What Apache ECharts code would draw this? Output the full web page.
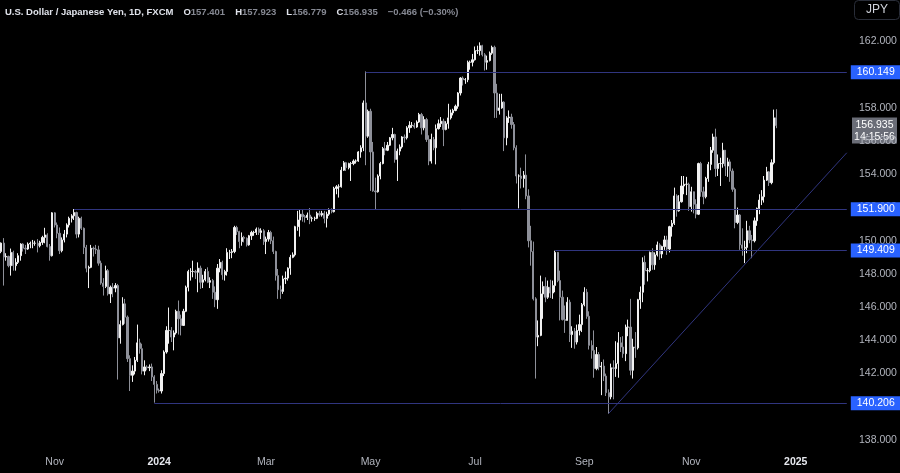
<!DOCTYPE html>
<html>
<head>
<meta charset="utf-8">
<title>USDJPY 1D</title>
<script src="https://cdn.jsdelivr.net/npm/echarts@6/dist/echarts.min.js"></script>
<style>
  html, body { margin: 0; padding: 0; background: #000; }
  #chart { width: 900px; height: 473px; }
</style>
</head>
<body>
<div id="chart"></div>
<script>
// daily bars, one row per trading day: [open, close, low, high]
var oct23 = [
  [149.35,149.86,149.25,149.90],[149.86,149.02,147.30,150.16],[149.02,149.06,148.80,149.25],[149.06,148.50,148.40,149.10],
  [148.50,149.30,147.90,149.53],[149.30,148.50,148.20,149.40],[148.50,148.70,148.20,148.95],[148.70,149.10,148.60,149.25],
  [149.10,149.80,148.80,149.85],[149.80,149.55,149.35,149.85],[149.55,149.50,149.20,149.75],[149.50,149.80,149.45,149.90],
  [149.80,149.85,149.55,149.95],[149.85,149.85,149.55,150.05],[149.85,149.85,149.70,150.00],[149.85,149.70,149.30,150.10],
  [149.70,149.90,149.60,150.00],[149.90,150.20,149.75,150.30],[150.20,150.35,149.85,150.78],[150.35,149.65,149.60,150.45],
  [149.65,149.10,148.80,149.80],[149.10,151.68,149.05,151.72]
];
var nov23 = [
  [151.68,150.95,150.80,151.72],[150.95,150.45,150.15,151.10],[150.45,149.40,149.20,150.80],[149.40,150.05,149.30,150.20],
  [150.05,150.40,149.90,150.65],[150.40,150.95,150.20,151.05],[150.95,151.35,150.80,151.45],[151.35,151.50,151.10,151.60],
  [151.50,151.70,151.25,151.91],[151.70,150.40,150.15,151.75],[150.40,151.35,150.20,151.45],[151.35,150.75,150.65,151.45],
  [150.75,149.60,149.20,150.80],[149.60,148.35,148.10,149.75],[148.35,148.40,147.15,148.50],[148.40,149.55,148.35,149.75],
  [149.55,149.50,149.05,149.65],[149.50,149.45,149.20,149.75],[149.45,148.65,148.50,149.70],[148.65,147.45,147.35,148.80],
  [147.45,147.25,146.70,147.75],[147.25,148.20,147.15,148.50]
];
var dec23 = [
  [148.20,146.80,146.70,148.30],[146.80,147.20,146.25,147.30],[147.20,147.15,146.60,147.45],[147.15,147.30,146.90,147.45],
  [147.30,144.15,141.64,147.40],[144.15,144.95,143.80,145.20],[144.95,146.20,144.90,146.60],[146.20,145.40,145.00,146.50],
  [145.40,142.90,142.70,145.50],[142.90,141.90,140.95,143.10],[141.90,142.15,141.50,142.50],[142.15,142.80,141.95,143.00],
  [142.80,143.85,142.70,144.95],[143.85,143.50,143.20,144.10],[143.50,142.15,141.95,143.80],[142.15,142.40,141.90,142.80],
  [142.40,142.35,142.20,142.50],[142.35,142.40,142.15,142.55],[142.40,141.80,141.55,142.60],[141.80,141.35,140.25,141.90],
  [141.35,141.00,140.80,141.55]
];
var jan24 = [
  [141.00,140.95,140.85,141.10],[140.95,142.00,140.80,142.20],[142.00,143.30,141.85,143.40],[143.30,144.60,143.20,144.85],
  [144.60,144.60,143.80,145.98],[144.60,144.20,143.90,144.80],[144.20,144.45,143.40,144.60],[144.45,145.75,144.35,145.85],
  [145.75,145.30,144.35,146.40],[145.30,144.90,144.30,145.55],[144.90,145.75,144.90,145.90],[145.75,147.20,145.70,147.30],
  [147.20,148.15,146.95,148.25],[148.15,148.15,147.60,148.35],[148.15,148.15,147.80,148.80],[148.15,148.10,147.70,148.25],
  [148.10,148.35,146.90,148.70],[148.35,147.50,147.10,148.50],[147.50,147.65,147.15,147.95],[147.65,148.15,147.55,148.30],
  [148.15,147.50,147.45,148.40],[147.50,147.60,147.15,147.80],[147.60,146.90,146.50,147.70]
];
var feb24 = [
  [146.90,146.45,146.00,147.25],[146.45,148.35,145.90,148.60],[148.35,148.70,148.10,148.90],[148.70,147.95,147.65,148.80],
  [147.95,148.15,147.60,148.25],[148.15,149.30,147.90,149.55],[149.30,149.30,148.90,149.45],[149.30,149.35,148.95,149.50],
  [149.35,150.80,149.25,150.90],[150.80,150.55,150.35,150.90],[150.55,149.95,149.55,150.60],[149.95,150.20,149.70,150.50],
  [150.20,150.15,149.90,150.30],[150.15,149.75,149.65,150.20],[149.75,150.30,149.70,150.35],[150.30,150.50,150.05,150.60],
  [150.50,150.50,150.30,150.60],[150.50,150.70,150.35,150.80],[150.70,150.50,150.35,150.80],[150.50,150.60,150.10,150.75],
  [150.60,149.95,149.75,150.70]
];
var mar24 = [
  [149.95,150.10,149.20,150.25],[150.10,150.50,149.95,150.65],[150.50,150.00,149.80,150.60],[150.00,149.35,149.20,150.25],
  [149.35,147.90,147.60,149.40],[147.90,147.05,146.50,148.30],[147.05,146.95,146.50,147.30],[146.95,147.70,146.80,147.90],
  [147.70,147.75,147.40,148.15],[147.75,148.35,147.60,148.40],[148.35,149.00,147.95,149.15],[149.00,149.15,148.95,149.30],
  [149.15,150.85,149.05,150.90],[150.85,151.25,150.60,151.80],[151.25,151.60,150.25,151.85],[151.60,151.45,151.15,151.85],
  [151.45,151.40,151.10,151.55],[151.40,151.55,151.25,151.70],[151.55,151.35,151.00,151.97],[151.35,151.35,151.15,151.45],
  [151.35,151.35,151.20,151.45]
];
var apr24 = [
  [151.35,151.65,151.30,151.75],[151.65,151.55,151.45,151.80],[151.55,151.65,151.45,151.80],[151.65,151.35,151.05,151.80],
  [151.35,151.60,150.80,151.75],[151.60,151.85,151.50,151.95],[151.85,151.75,151.65,151.95],[151.75,153.15,151.70,153.25],
  [153.15,153.25,152.80,153.35],[153.25,153.25,152.60,153.40],[153.25,154.25,153.20,154.45],[154.25,154.70,154.20,154.80],
  [154.70,154.40,154.20,154.75],[154.40,154.65,154.30,154.70],[154.65,154.65,153.60,154.75],[154.65,154.80,154.55,154.90],
  [154.80,154.80,154.65,154.90],[154.80,155.35,154.75,155.40],[155.35,155.60,155.00,155.75],[155.60,158.30,155.40,158.45],
  [158.30,156.30,154.55,160.20],[156.30,157.80,156.20,157.90]
];
var may24 = [
  [157.80,155.35,153.00,157.95],[155.35,153.00,152.95,155.95],[153.00,152.95,151.86,153.80],[152.95,153.90,152.90,154.00],
  [153.90,154.65,153.70,154.75],[154.65,155.55,154.60,155.65],[155.55,155.45,155.15,155.95],[155.45,155.75,155.40,155.95],
  [155.75,156.20,155.70,156.25],[156.20,156.40,156.05,156.80],[156.40,154.90,154.70,156.45],[154.90,155.40,153.60,155.55],
  [155.40,155.65,155.15,155.80],[155.65,156.25,155.55,156.30],[156.25,156.20,155.90,156.40],[156.20,156.80,156.10,156.90],
  [156.80,156.95,156.50,157.20],[156.95,156.95,156.80,157.15],[156.95,156.85,156.75,157.10],[156.85,157.15,156.80,157.25],
  [157.15,157.60,157.10,157.70],[157.60,156.80,156.40,157.70],[156.80,157.30,156.65,157.50]
];
var jun24 = [
  [157.30,156.10,155.95,157.40],[156.10,154.80,154.55,156.35],[154.80,156.10,154.65,156.45],[156.10,155.60,155.45,156.25],
  [155.60,156.75,154.60,157.00],[156.75,157.05,156.70,157.30],[157.05,157.20,156.85,157.45],[157.20,156.70,155.70,157.35],
  [156.70,157.05,156.65,157.20],[157.05,157.40,156.75,158.25],[157.40,157.70,157.30,157.90],[157.70,157.85,157.55,157.95],
  [157.85,158.10,157.80,158.20],[158.10,158.90,157.95,158.95],[158.90,159.80,158.75,159.85],[159.80,159.70,159.35,159.90],
  [159.70,159.70,159.45,159.80],[159.70,160.75,159.55,160.85],[160.75,160.75,160.30,160.85],[160.75,160.90,160.50,161.25]
];
var jul24 = [
  [160.90,161.45,160.85,161.70],[161.45,161.45,161.25,161.75],[161.45,161.75,161.15,161.95],[161.75,161.20,161.10,161.80],
  [161.20,160.75,160.25,161.30],[160.75,160.85,160.30,161.15],[160.85,161.30,160.80,161.40],[161.30,161.65,161.20,161.75],
  [161.65,158.90,157.40,161.75],[158.90,157.85,157.40,159.45],[157.85,158.00,157.60,158.85],[158.00,158.35,157.95,158.85],
  [158.35,156.20,155.40,158.40],[156.20,157.40,155.75,157.50],[157.40,157.45,157.10,157.85],[157.45,157.00,156.75,157.65],
  [157.00,155.60,155.45,157.15],[155.60,153.90,153.45,155.75],[153.90,153.90,151.95,154.00],[153.90,153.75,153.15,154.40],
  [153.75,153.95,153.20,154.20],[153.95,152.70,152.50,155.20],[152.70,150.00,149.60,153.10]
];
var aug24 = [
  [150.00,149.35,148.50,150.90],[149.35,146.50,146.40,149.95],[146.50,144.20,141.70,146.60],[144.20,144.30,143.65,145.20],
  [144.30,146.80,144.25,147.90],[146.80,147.25,145.30,147.55],[147.25,146.60,146.30,147.80],[146.60,147.20,146.50,147.60],
  [147.20,146.85,146.55,147.65],[146.85,147.30,146.50,147.60],[147.30,149.30,146.90,149.40],[149.30,147.60,147.50,149.10],
  [147.60,146.60,145.20,148.20],[146.60,145.25,145.20,147.00],[145.25,145.20,144.45,146.10],[145.20,146.30,145.20,146.60],
  [146.30,144.35,143.90,146.45],[144.35,144.55,143.55,144.85],[144.55,143.90,143.50,144.75],[143.90,144.60,143.75,144.95],
  [144.60,144.95,144.30,145.55],[144.95,146.15,144.50,146.25]
];
var sep24 = [
  [146.15,146.90,146.05,147.20],[146.90,145.45,145.30,147.10],[145.45,143.70,143.45,145.75],[143.70,143.40,142.90,144.00],
  [143.40,142.30,141.75,144.60],[142.30,143.15,142.20,143.60],[143.15,142.40,142.20,143.30],[142.40,142.45,140.70,142.70],
  [142.45,141.85,141.55,142.85],[141.85,140.85,140.65,142.00],[140.85,140.60,139.58,141.05],[140.60,142.35,140.45,142.60],
  [142.35,142.30,140.45,142.80],[142.30,142.60,141.80,143.95],[142.60,143.85,141.75,144.50],[143.85,143.60,143.30,144.20],
  [143.60,143.20,142.95,144.25],[143.20,144.80,142.75,144.95],[144.80,144.80,144.25,145.25],[144.80,142.20,141.90,146.50],
  [142.20,143.60,141.70,144.10]
];
var oct24 = [
  [143.60,143.55,142.95,144.50],[143.55,146.45,143.45,146.50],[146.45,146.90,145.90,147.25],[146.90,148.70,146.30,149.00],
  [148.70,148.20,147.35,149.10],[148.20,148.20,147.55,148.35],[148.20,149.30,148.10,149.35],[149.30,148.55,148.25,149.55],
  [148.55,149.15,148.25,149.30],[149.15,149.75,149.05,149.95],[149.75,149.20,148.85,149.85],[149.20,149.65,148.95,149.70],
  [149.65,150.05,149.45,150.30],[150.05,149.50,149.15,150.30],[149.50,150.85,149.30,150.90],[150.85,151.05,150.25,151.25],
  [151.05,152.70,150.95,153.20],[152.70,151.80,151.45,152.80],[151.80,152.35,151.75,152.75],[152.35,153.30,152.30,153.90],
  [153.30,153.40,152.80,153.90],[153.40,153.40,152.75,153.85],[153.40,152.05,151.80,153.50]
];
var nov24 = [
  [152.05,152.95,151.75,153.25],[152.95,152.20,151.65,152.70],[152.20,151.60,151.35,152.50],[151.60,154.65,151.55,154.70],
  [154.65,152.95,152.65,154.75],[152.95,152.65,152.20,153.25],[152.65,153.75,152.55,153.85],[153.75,154.60,153.55,154.75],
  [154.60,155.45,154.25,155.65],[155.45,156.25,155.30,156.45],[156.25,154.35,153.85,156.75],[154.35,154.65,153.90,155.20],
  [154.65,154.65,153.30,155.00],[154.65,155.45,154.40,155.90],[155.45,154.50,153.90,155.35],[154.50,154.75,153.85,155.00],
  [154.75,154.20,153.55,154.90],[154.20,153.10,152.95,154.35],[153.10,151.10,150.75,153.20],[151.10,151.55,151.00,152.00],
  [151.55,149.75,149.45,151.60]
];
var dec24 = [
  [149.75,149.55,149.10,150.75],[149.55,149.60,148.65,150.00],[149.60,150.60,149.25,151.20],[150.60,150.05,149.85,150.90],
  [150.05,150.00,148.95,150.35],[150.00,151.20,149.90,151.40],[151.20,151.95,150.90,152.00],[151.95,152.45,151.60,152.80],
  [152.45,152.65,152.15,153.05],[152.65,153.65,152.30,153.90],[153.65,154.15,153.60,154.45],[154.15,153.50,153.30,154.20],
  [153.50,154.70,153.40,154.90],[154.70,157.401,154.60,157.90],[157.401,156.935,156.779,157.923]
];

// horizontal levels drawn on the chart
var levels = [
  { from: '2024-04-29', value: 160.149 },
  { from: '2023-11-13', value: 151.900 },
  { from: '2024-08-15', value: 149.409 },
  { from: '2023-12-28', value: 140.206 }
];
// rising trend line: start point and value at the right edge
var trendStart = ['2024-09-16', 139.6];
var trendEndValue = 155.3;

var countdown = '14:15:56';
var firstDay = '2023-10-02';
var slotCount = 349; // trading-day slots, including the empty space right of the last bar
var monthNames = ['Jan','Feb','Mar','Apr','May','Jun','Jul','Aug','Sep','Oct','Nov','Dec'];

var bars = [].concat(oct23, nov23, dec23, jan24, feb24, mar24, apr24, may24, jun24,
                     jul24, aug24, sep24, oct24, nov24, dec24);

// weekday calendar for the category axis
var dates = [];
var d = new Date(firstDay + 'T00:00:00Z');
while (dates.length < slotCount) {
  var wd = d.getUTCDay();
  if (wd !== 0 && wd !== 6) dates.push(d.toISOString().slice(0, 10));
  d.setUTCDate(d.getUTCDate() + 1);
}
var lastSlot = dates[dates.length - 1];

// label the first day of every other month (Jan shows the year)
var labelAt = {};
dates.forEach(function (ds, i) {
  var m = +ds.slice(5, 7) - 1;
  if (i > 0 && dates[i - 1].slice(5, 7) !== ds.slice(5, 7) && m % 2 === 0) labelAt[i] = true;
});

var last = bars[bars.length - 1];
var prevClose = bars[bars.length - 2][1];
var chg = last[1] - prevClose;
var chgPct = chg / prevClose * 100;
function sgn(v, n) { return (v < 0 ? '\u2212' : '+') + Math.abs(v).toFixed(n); }

var FONT = "'Liberation Sans', Arial, sans-serif";
var lineColor = '#30357f';
var gridRight = 52;

var markData = levels.map(function (lv) {
  return [
    { coord: [lv.from, lv.value], label: { show: true, formatter: lv.value.toFixed(3) } },
    { coord: [lastSlot, lv.value] }
  ];
});
markData.push([
  { coord: trendStart, label: { show: false } },
  { coord: [lastSlot, trendEndValue] }
]);

var chart = echarts.init(document.getElementById('chart'));
chart.setOption({
  backgroundColor: '#000',
  animation: false,
  title: [{
    left: 0,
    top: -2,
    text: '{t|U.S. Dollar / Japanese Yen, 1D, FXCM}  {k|O}{v|' + last[0].toFixed(3) + '}  {k|H}{v|' + last[3].toFixed(3) +
          '}  {k|L}{v|' + last[2].toFixed(3) + '}  {k|C}{v|' + last[1].toFixed(3) + '}  {v|' + sgn(chg, 3) + ' (' + sgn(chgPct, 2) + '%)}',
    textStyle: {
      fontFamily: FONT,
      rich: {
        t: { color: '#e0e3eb', fontSize: 9.5, fontFamily: FONT },
        k: { color: '#e0e3eb', fontSize: 9.5, fontFamily: FONT },
        v: { color: '#868993', fontSize: 9.5, fontFamily: FONT }
      }
    }
  }, {
    text: 'JPY',
    right: 0,
    top: 0,
    padding: [4, 12, 4, 12],
    backgroundColor: '#000',
    borderColor: '#2a2e39',
    borderWidth: 1,
    borderRadius: 4,
    textStyle: { color: '#d1d4dc', fontSize: 12, fontWeight: 'normal', fontFamily: FONT }
  }],
  grid: { left: 0, right: gridRight, top: 0, bottom: 33 },
  xAxis: {
    type: 'category',
    data: dates,
    boundaryGap: true,
    axisLine: { show: false },
    axisTick: { show: false },
    splitLine: { show: false },
    axisLabel: {
      margin: 17,
      interval: function (i) { return !!labelAt[i]; },
      formatter: function (v) {
        var m = +v.slice(5, 7) - 1;
        return m === 0 ? '{y|' + v.slice(0, 4) + '}' : monthNames[m];
      },
      color: '#b2b5be',
      fontSize: 10.5,
      fontFamily: FONT,
      rich: { y: { color: '#e6e8ee', fontWeight: 'bold', fontSize: 10.5, fontFamily: FONT } }
    }
  },
  yAxis: {
    type: 'value',
    position: 'right',
    min: 138,
    max: 164.5,
    interval: 2,
    axisLine: { show: false },
    axisTick: { show: false },
    splitLine: { show: false },
    axisLabel: {
      margin: 11,
      color: '#b2b5be',
      fontSize: 10.5,
      fontFamily: FONT,
      formatter: function (v) { return v.toFixed(3); }
    }
  },
  series: [{
    type: 'candlestick',
    data: bars,
    barWidth: '70%',
    itemStyle: {
      color: '#f2f2f2',
      color0: '#8e9099',
      borderColor: '#f2f2f2',
      borderColor0: '#8e9099',
      borderWidth: 1
    },
    markLine: {
      silent: true,
      symbol: ['none', 'none'],
      animation: false,
      lineStyle: { color: lineColor, width: 1, type: 'solid' },
      emphasis: { disabled: true },
      label: {
        show: true,
        position: 'end',
        distance: 4,
        color: '#ffffff',
        backgroundColor: '#2962ff',
        padding: [2, 6, 1, 6],
        fontSize: 10.5,
        fontFamily: FONT
      },
      data: markData
    }
  }]
});

// last-price tag with the bar countdown, placed through the y scale
var py = chart.convertToPixel({ yAxisIndex: 0 }, last[1]);
var tagX = chart.getWidth() - gridRight + 4;
chart.setOption({
  graphic: [{
    type: 'group',
    x: tagX,
    y: py - 8,
    z: 100,
    children: [
      { type: 'rect', shape: { x: 0, y: 0, width: 45, height: 26 }, style: { fill: '#6a6d77' } },
      { type: 'text', x: 22.5, y: 7.5, style: { text: last[1].toFixed(3), fill: '#ffffff', font: '10.5px ' + FONT, align: 'center', verticalAlign: 'middle' } },
      { type: 'text', x: 22.5, y: 19.5, style: { text: countdown, fill: '#ffffff', font: '10.5px ' + FONT, align: 'center', verticalAlign: 'middle' } }
    ]
  }]
});
</script>
</body>
</html>
